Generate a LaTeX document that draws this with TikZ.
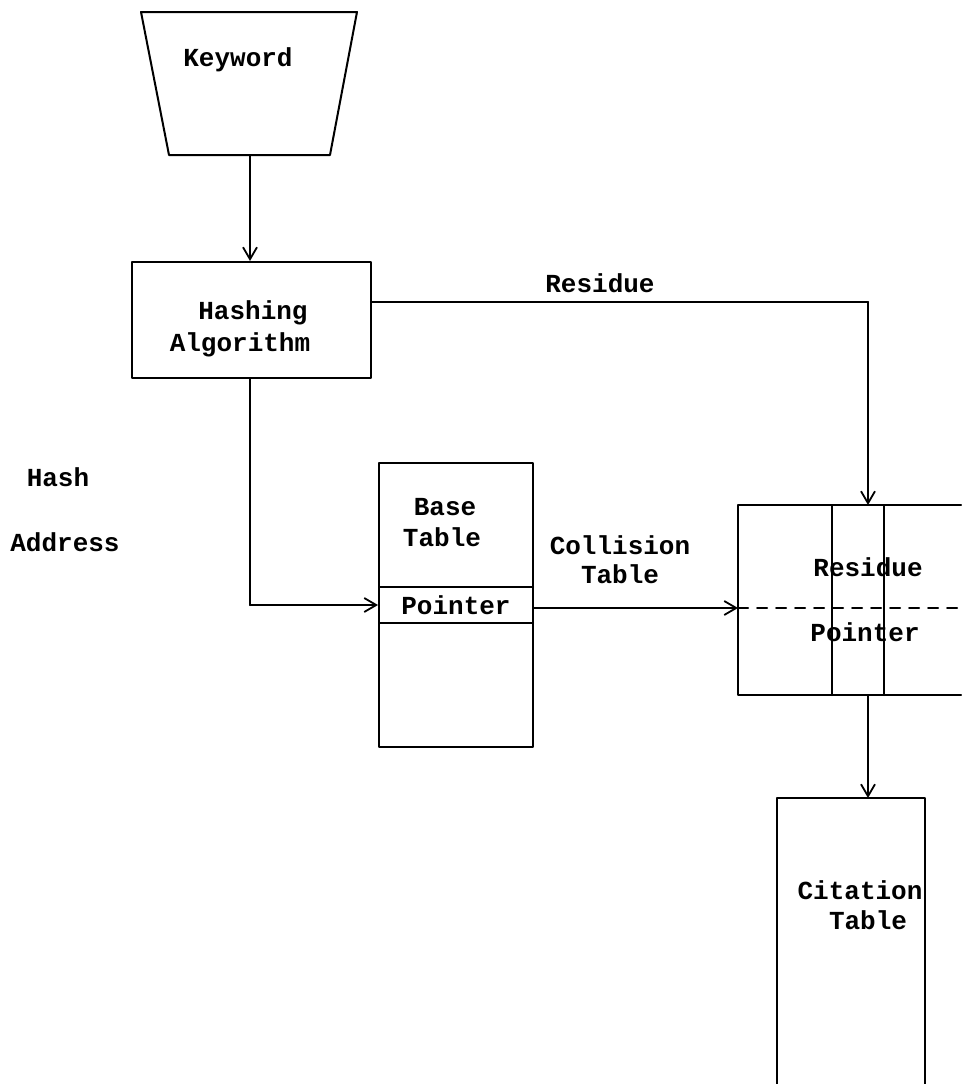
\documentclass[tikz,border=0pt]{standalone}
\usepackage{fontspec}
\setmonofont{Liberation Mono}
\usetikzlibrary{arrows.meta}
\begin{document}
\begin{tikzpicture}[x=1pt,y=-1pt,
  ln/.style={line width=2pt, line cap=round, line join=round},
  arr/.style={ln, -{Straight Barb[length=12pt,width=14pt,line width=1.8pt]}},
  lbl/.style={font=\ttfamily\bfseries\fontsize{26}{31}\selectfont, inner sep=0pt}
]
\useasboundingbox (0,0) rectangle (961,1084);
% Keyword trapezoid
\draw[ln] (141,12) -- (357,12) -- (330,155) -- (169,155) -- cycle;
\node[lbl] (kwtext) at (238,60) {Keyword};
\coordinate (kwb) at (250,155);
% Hashing algorithm
\node[ln, draw, inner sep=0pt, minimum width=239pt, minimum height=116pt] (hash) at (251.5,320) {};
\node[lbl] (hashtxt1) at (253,313) {Hashing};
\node[lbl] (hashtxt2) at (240,345) {Algorithm};
\draw[arr] (kwb) -- (hash.north -| kwb);
% Hash Address label
\node[lbl] (hashlbl) at (58,477) {Hash};
\node[lbl] (addrlbl) at (65,542) {Address};
% Base table
\node[ln, draw, inner sep=0pt, minimum width=154pt, minimum height=284pt] (base) at (456,605) {};
\draw[ln] (379,587) -- (533,587);
\draw[ln] (379,623) -- (533,623);
\node[lbl] (basetxt1) at (445,507) {Base};
\node[lbl] (basetxt2) at (442,537) {Table};
\node[lbl] (ptr) at (456,605) {Pointer};
% Hash -> base
\coordinate (hb) at (250,378);
\coordinate (hturn) at (250,605);
\draw[ln] (hb) -- (hturn);
\draw[arr] (hturn) -- (base.west);
% Collision table
\coordinate (ctl) at (738,505);
\coordinate (ctlb) at (738,695);
\coordinate (cwest) at (738,608);
\draw[ln] (961,505) -- (ctl) -- (ctlb) -- (961,695);
\draw[ln] (832,505) -- (832,695);
\draw[ln] (884,505) -- (884,695);
\draw[ln, dashed, dash pattern=on 10pt off 9pt] (cwest) -- (961,608);
\node[lbl] (ctres) at (868,567) {Residue};
\node[lbl] (ctptr) at (865,632) {Pointer};
\node[lbl] (colllbl1) at (620,545) {Collision};
\node[lbl] (colllbl2) at (620,574) {Table};
\draw[arr] (base.east |- cwest) -- (cwest);
% Residue connector
\coordinate (ctop) at (868,505);
\coordinate (rstart) at (371,302);
\coordinate (rcorner) at (868,302);
\draw[ln] (rstart) -- (rcorner);
\draw[arr] (rcorner) -- (ctop);
\node[lbl] (reslbl) at (600,283) {Residue};
% Citation table
\coordinate (cittop) at (868,798);
\draw[ln] (777,1084) -- (777,798) -- (925,798) -- (925,1084);
\node[lbl] (cit1) at (860,890) {Citation};
\node[lbl] (cit2) at (868,920) {Table};
\coordinate (ctbot) at (868,695);
\draw[arr] (ctbot) -- (cittop);
\end{tikzpicture}
\end{document}
